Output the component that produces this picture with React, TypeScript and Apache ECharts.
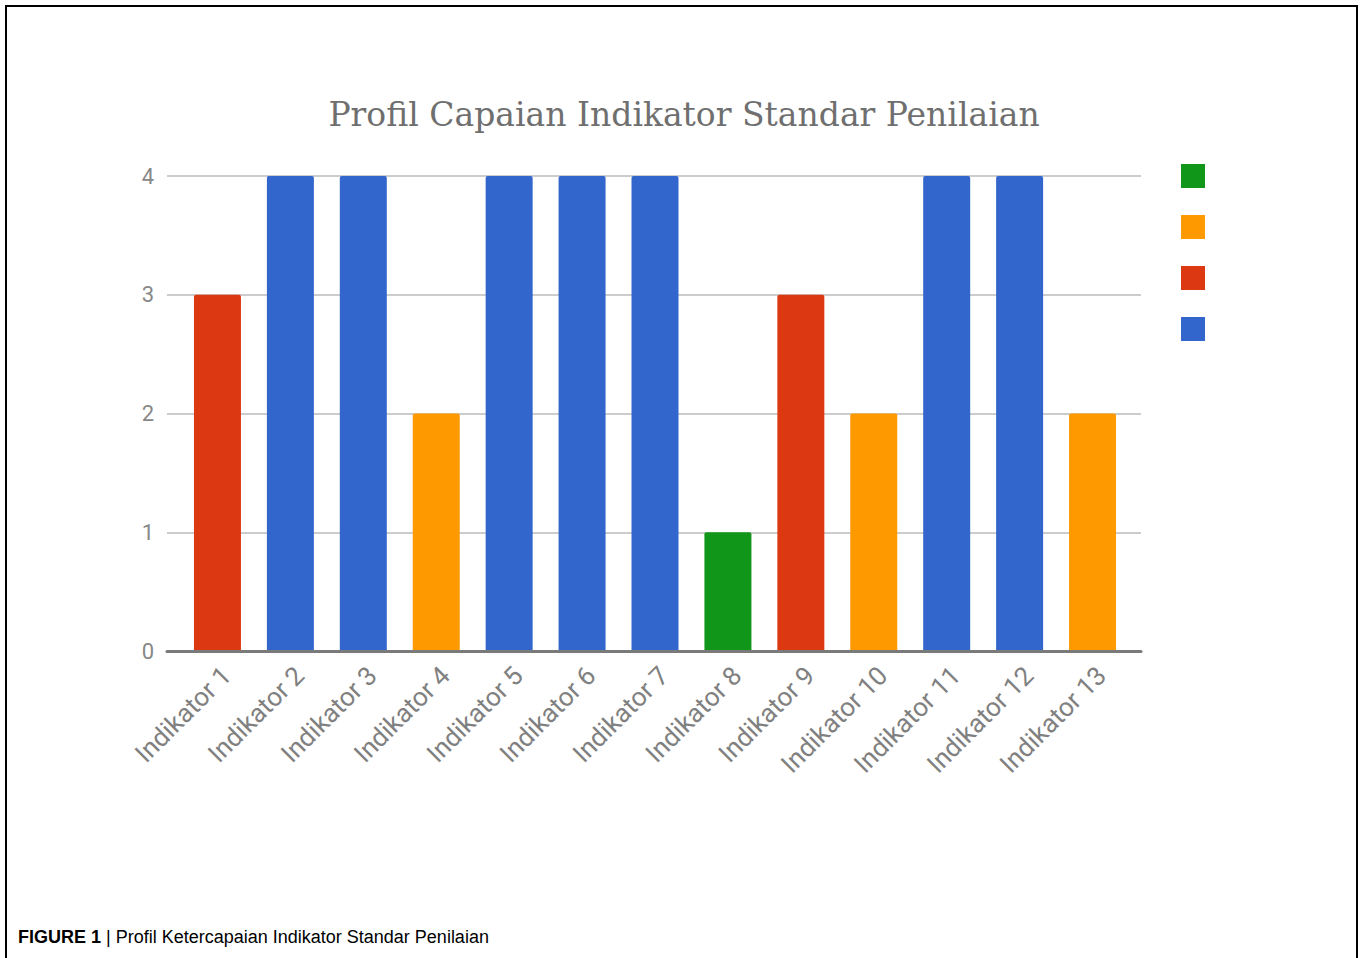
import React, { useEffect, useRef } from "react";
import * as echarts from "echarts";

const categories = [
  "Indikator 1", "Indikator 2", "Indikator 3", "Indikator 4", "Indikator 5",
  "Indikator 6", "Indikator 7", "Indikator 8", "Indikator 9", "Indikator 10",
  "Indikator 11", "Indikator 12", "Indikator 13",
];
const values = [3, 4, 4, 2, 4, 4, 4, 1, 3, 2, 4, 4, 2];
const levels = [1, 2, 3, 4];
const levelColors = ["#109618", "#FF9900", "#DC3912", "#3366CC"];
const yTicks = [0, 1, 2, 3, 4];
const titleText = "Profil Capaian Indikator Standar Penilaian";
const captionBold = "FIGURE 1";
const captionText = " | Profil Ketercapaian Indikator Standar Penilaian";

export default function App() {
  const ref = useRef<HTMLDivElement>(null);
  useEffect(() => {
    document.body.style.margin = "0";
    if (!ref.current) return;
    const chart = echarts.init(ref.current, undefined, { renderer: "svg" });
    const series = levels.map((lv, i) => ({
      name: String(lv),
      type: "bar",
      stack: "all",
      xAxisIndex: 0,
      yAxisIndex: 0,
      barWidth: 47,
      itemStyle: { color: levelColors[i], borderRadius: [2, 2, 0, 0] },
      data: values.map((v) => (v === lv ? v : null)),
    }));
    chart.setOption({
      animation: false,
      grid: [
        { left: 181, right: 233, top: 176, bottom: 307 },
        { left: 167, right: 221, top: 176, bottom: 307 },
        { left: 190, right: 224, top: 176, bottom: 307 },
      ],
      xAxis: [
        {
          gridIndex: 0, type: "category", data: categories,
          axisLine: { show: false }, axisTick: { show: false }, axisLabel: { show: false },
        },
        {
          gridIndex: 1, type: "value", min: 0, max: 1, z: 10,
          axisLine: { show: true, lineStyle: { color: "#7a7a7a", width: 3 } },
          axisTick: { show: false }, axisLabel: { show: false }, splitLine: { show: false },
        },
        {
          gridIndex: 2, type: "category", data: categories,
          axisLine: { show: false }, axisTick: { show: false },
          axisLabel: {
            rotate: 45, margin: 20, interval: 0,
            color: "#808080", fontSize: 26, fontFamily: "Roboto",
          },
        },
      ],
      yAxis: [
        { gridIndex: 0, type: "value", min: 0, max: 4, interval: 1, show: false },
        {
          gridIndex: 1, type: "value", min: yTicks[0], max: yTicks[yTicks.length - 1], interval: 1,
          axisLine: { show: false }, axisTick: { show: false },
          axisLabel: { margin: 13, color: "#888888", fontSize: 22, fontFamily: "Roboto" },
          splitLine: { lineStyle: { color: "#cccccc", width: 2 } },
        },
        { gridIndex: 2, type: "value", min: 0, max: 4, show: false },
      ],
      legend: {
        orient: "vertical", left: 1181, top: 164, padding: 0,
        itemWidth: 24, itemHeight: 24, itemGap: 27,
        icon: "rect", data: levels.map(String), formatter: () => "",
        selectedMode: false,
      },
      series,
      graphic: [
        {
          type: "text", x: 684, y: 114,
          style: {
            text: titleText, fill: "#6f6f6f", font: "33px 'DejaVu Serif'",
            align: "center", verticalAlign: "middle",
          },
        },
        {
          type: "text", x: 18, y: 937,
          style: {
            text: `{b|${captionBold}}{n|${captionText}}`,
            verticalAlign: "middle",
            rich: {
              b: { fontWeight: "bold", fontSize: 18, fontFamily: "Liberation Sans", fill: "#000" },
              n: { fontSize: 18, fontFamily: "Liberation Sans", fill: "#000" },
            },
          },
        },
      ],
    });
    return () => chart.dispose();
  }, []);
  return (
    <div style={{ position: "relative", width: 1362, height: 958, background: "#fff", overflow: "hidden" }}>
      <div
        style={{
          position: "absolute", left: 5, top: 5, width: 1349, height: 1000,
          borderTop: "2px solid #000", borderLeft: "2px solid #000", borderRight: "2px solid #000",
        }}
      />
      <div ref={ref} style={{ position: "absolute", left: 0, top: 0, width: 1362, height: 958 }} />
    </div>
  );
}
